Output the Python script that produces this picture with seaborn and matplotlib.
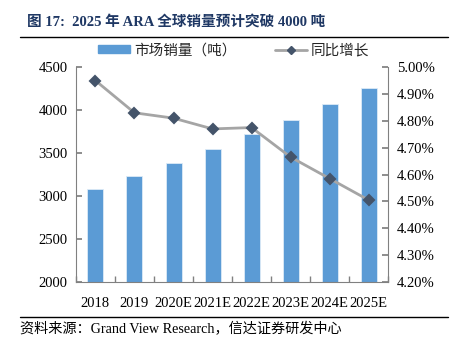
import matplotlib
matplotlib.use("Agg")
import matplotlib.pyplot as plt
import seaborn as sns
import numpy as np
from matplotlib.lines import Line2D
from matplotlib.patches import Patch
from matplotlib.ticker import FuncFormatter

years = ["2018", "2019", "2020E", "2021E", "2022E", "2023E", "2024E", "2025E"]
sales = [3080, 3230, 3390, 3550, 3720, 3890, 4070, 4260]
growth = [4.95, 4.83, 4.81, 4.77, 4.775, 4.665, 4.585, 4.505]
left_ticks = [2000, 2500, 3000, 3500, 4000, 4500]
right_ticks = [4.2, 4.3, 4.4, 4.5, 4.6, 4.7, 4.8, 4.9, 5.0]

sns.set_theme(style="white")
plt.rcParams['font.family'] = ['Liberation Serif', 'Noto Sans CJK SC', 'DejaVu Sans']

BLUE = "#5B9BD5"
GRAY = "#A5A5A5"
NAVY = "#44546A"
TITLE = "#1F3864"

fig = plt.figure(figsize=(4.6, 3.39), dpi=100)
ax = fig.add_axes([0.165, 0.168, 0.679, 0.634])

sns.barplot(x=years, y=sales, ax=ax, color=BLUE, width=0.41, saturation=1,
            edgecolor="#DDEBF7", linewidth=0.6, zorder=2)
ax.set_ylim(2000, 4500)
ax.set_yticks(left_ticks)
ax.set_xlim(-0.5, len(years) - 0.5)

ax2 = ax.twinx()
sns.pointplot(x=years, y=growth, ax=ax2, color=GRAY, markers="D",
              markerfacecolor=NAVY, markeredgecolor=NAVY, markersize=5,
              linewidth=2)
ax2.set_ylim(4.2, 5.0)
ax2.set_yticks(right_ticks)
ax2.yaxis.set_major_formatter(FuncFormatter(lambda v, p: f"{v:.2f}%"))
ax2.set_xlim(-0.5, len(years) - 0.5)

for a in (ax, ax2):
    a.set_xlabel("")
    a.set_ylabel("")
    a.grid(False)
    for s in a.spines.values():
        s.set_color("#808080")
        s.set_linewidth(0.8)
    a.spines['top'].set_visible(False)
    a.tick_params(axis='y', direction='in', length=4, color="#808080",
                  labelsize=10.5, pad=6)

ax.spines['right'].set_visible(False)
ax2.spines['left'].set_visible(False)
ax2.spines['bottom'].set_visible(False)
ax.tick_params(axis='y', left=True, labelleft=True)
ax2.tick_params(axis='y', right=True, labelright=True)

# category-boundary ticks on x axis
ax.set_xticks(np.arange(len(years)))
ax.set_xticklabels(years)
ax.tick_params(axis='x', bottom=False, labelsize=10.5, pad=5)
ax.set_xticks(np.arange(len(years) + 1) - 0.5, minor=True)
ax.tick_params(axis='x', which='minor', bottom=True, direction='in', length=4,
               color="#808080")

for lbl in ax.get_xticklabels() + ax.get_yticklabels() + ax2.get_yticklabels():
    lbl.set_color("black")

# legend
handles = [Patch(facecolor=BLUE, edgecolor=BLUE),
           Line2D([0], [0], color=GRAY, lw=2, marker="D", markersize=4,
                  markerfacecolor=NAVY, markeredgecolor=NAVY)]
fig.legend(handles, ["市场销量（吨）", "同比增长"], loc="center",
           bbox_to_anchor=(0.508, 0.852), ncol=2, frameon=False,
           fontsize=10.5, handlelength=2.2, handleheight=0.45,
           columnspacing=2.6, handletextpad=0.3)

# title and rules
fig.text(0.058, 0.935, "图 17:  2025 年 ARA 全球销量预计突破 4000 吨",
         fontsize=10.5, fontweight='bold', color=TITLE, va='center', ha='left')
fig.add_artist(Line2D([0.043, 0.975], [0.891, 0.891], color="black", lw=1.0,
                      transform=fig.transFigure))
fig.add_artist(Line2D([0.043, 0.975], [0.066, 0.066], color="black", lw=1.0,
                      transform=fig.transFigure))
fig.text(0.043, 0.028, "资料来源：Grand View Research，信达证券研发中心",
         fontsize=10.2, color="black", va='center', ha='left')

fig.savefig("out.png", dpi=100)
